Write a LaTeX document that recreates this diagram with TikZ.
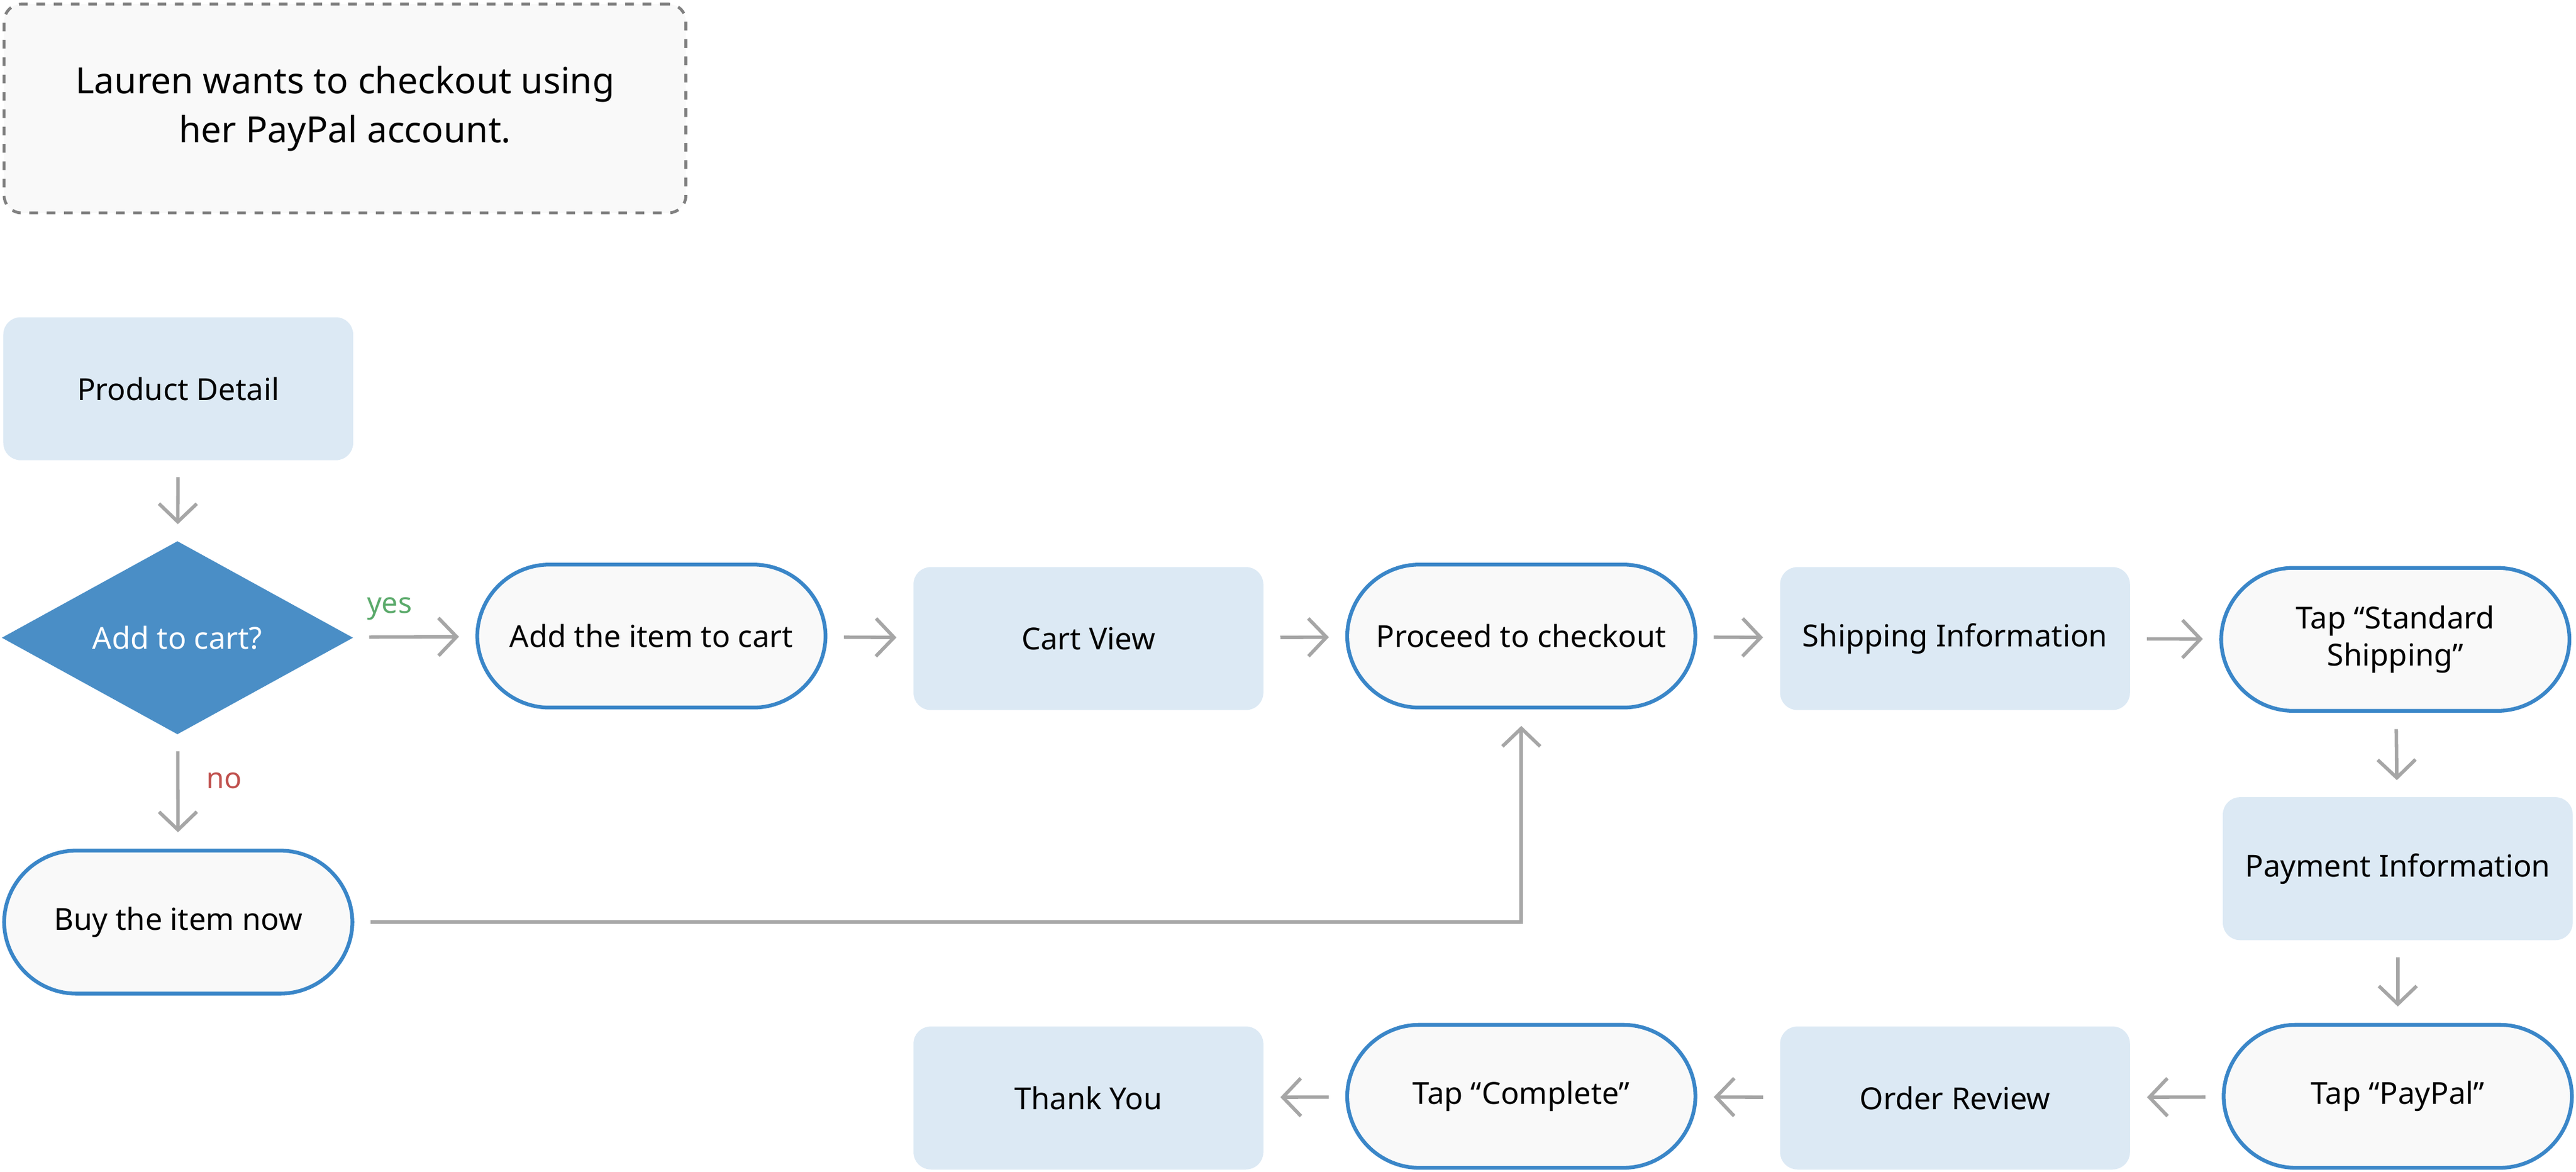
\documentclass[tikz,border=0pt]{standalone}
\usepackage{fontspec}
\setmainfont{Noto Sans}
\usetikzlibrary{positioning}
\usetikzlibrary{shapes.geometric}
\usetikzlibrary{arrows.meta}
\definecolor{boxblue}{HTML}{DCE9F4}
\definecolor{edgeblue}{HTML}{3A86C8}
\definecolor{diamblue}{HTML}{4A8EC6}
\definecolor{paper}{HTML}{F9F9F9}
\definecolor{arrowgrey}{HTML}{A6A6A6}
\definecolor{yesgreen}{HTML}{5BAA6B}
\definecolor{nored}{HTML}{C0504D}
\tikzset{
  screen/.style={rectangle, rounded corners=6pt, fill=boxblue, minimum width=4.26cm, minimum height=1.74cm, font=\fontsize{10.5}{13}\selectfont},
  action/.style={rectangle, rounded corners=0.88cm, fill=paper, draw=edgeblue, line width=1.3pt, minimum width=4.24cm, minimum height=1.74cm, align=center, font=\fontsize{10.5}{13}\selectfont},
  decision/.style={diamond, fill=diamblue, text=white, minimum width=4.28cm, minimum height=2.2cm, inner sep=0pt, font=\fontsize{10.5}{13}\selectfont},
  flow/.style={draw=arrowgrey, line width=1.2pt, -{Straight Barb[length=2.2mm,width=4.6mm]}, shorten >=0.2cm, shorten <=0.2cm},
}
\begin{document}
\begin{tikzpicture}
  \useasboundingbox (0,0) rectangle (31.36,-14.26);

  \node[rectangle, rounded corners=6pt, draw=gray, dashed, line width=1pt, fill=paper, minimum width=8.3cm, minimum height=2.54cm, align=center, font=\fontsize{12.5}{17}\selectfont] (note) at (4.2,-1.32) {Lauren wants to checkout using\\her PayPal account.};

  \node[screen] (detail) at (2.17,-4.73) {Product Detail};
  \node[decision] (addq) at (2.16,-7.76) {Add to cart?};
  \node[action] (additem) at (7.93,-7.74) {Add the item to cart};
  \node[screen] (cart) at (13.25,-7.77) {Cart View};
  \node[action] (proceed) at (18.52,-7.74) {Proceed to checkout};
  \node[screen] (shipping) at (23.8,-7.77) {Shipping Information};
  \node[action] (standard) at (29.16,-7.78) {Tap “Standard\\Shipping”};
  \node[screen] (payment) at (29.19,-10.57) {Payment Information};
  \node[action] (paypal) at (29.19,-13.34) {Tap “PayPal”};
  \node[screen] (review) at (23.8,-13.36) {Order Review};
  \node[action] (complete) at (18.52,-13.34) {Tap “Complete”};
  \node[screen] (thanks) at (13.25,-13.36) {Thank You};
  \node[action] (buynow) at (2.17,-11.22) {Buy the item now};

  \draw[flow] (detail) -- (addq);
  \draw[flow] (addq) -- node[above=2pt, pos=0.3, text=yesgreen, font=\bfseries\fontsize{10}{12}\selectfont] {yes} (additem);
  \draw[flow] (addq) -- node[right=6pt, pos=0.4, text=nored, font=\bfseries\fontsize{10}{12}\selectfont] {no} (buynow);
  \draw[flow] (additem) -- (cart);
  \draw[flow] (cart) -- (proceed);
  \draw[flow] (proceed) -- (shipping);
  \draw[flow] (shipping) -- (standard);
  \draw[flow] (standard) -- (payment);
  \draw[flow] (payment) -- (paypal);
  \draw[flow] (paypal) -- (review);
  \draw[flow] (review) -- (complete);
  \draw[flow] (complete) -- (thanks);
  \draw[flow, rounded corners=0pt] (buynow) -| (proceed);
\end{tikzpicture}
\end{document}
